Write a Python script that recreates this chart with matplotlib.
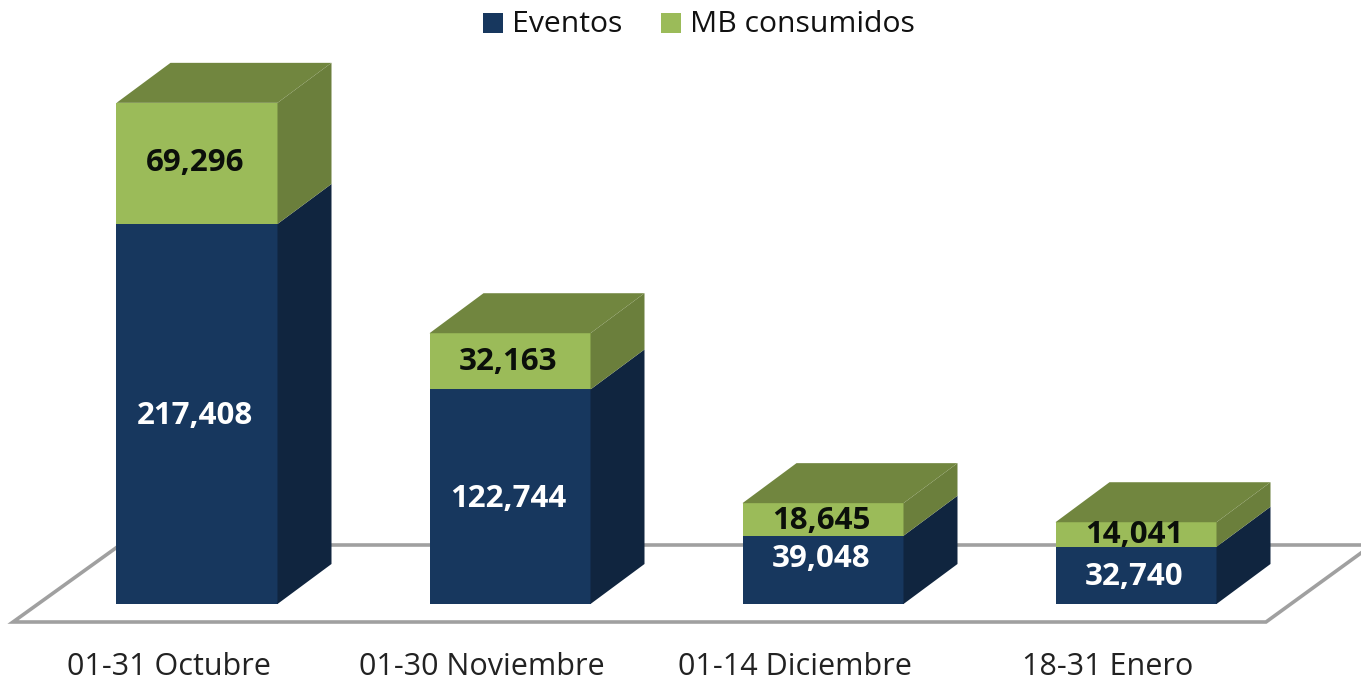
import matplotlib
matplotlib.use("Agg")
import numpy as np
import matplotlib.pyplot as plt
from matplotlib.patches import Polygon

periods = ["01-31 Octubre", "01-30 Noviembre", "01-14 Diciembre", "18-31 Enero"]
eventos = [217408, 122744, 39048, 32740]
mb_consumidos = [69296, 32163, 18645, 14041]
series_names = ["Eventos", "MB consumidos"]

plt.rcParams["font.family"] = ["Open Sans", "DejaVu Sans"]

W, H = 1361, 678
px_x = 313.0      # pixels per category
px_y = 0.001748   # pixels per unit
x0_px, y0_px = 197.0, 604.0

fig = plt.figure(figsize=(W / 100, H / 100), dpi=100)
ax = fig.add_axes([0, 0, 1, 1])
ax.set_xlim(-x0_px / px_x, (W - x0_px) / px_x)
ax.set_ylim(-(H - y0_px) / px_y, y0_px / px_y)
ax.axis("off")


def xu(px):
    return px / px_x


def yu(px):
    return px / px_y


half = xu(80.5)
dx, dy = xu(54), yu(40)

navy, navy_side = "#17375E", "#10253F"
green, green_side, green_top = "#9BBB59", "#6B7F3C", "#71863F"


def box(x, bottom, top, front, side):
    ax.add_patch(Polygon([(x - half, bottom), (x + half, bottom), (x + half, top), (x - half, top)],
                         fc=front, ec="none", zorder=3))
    ax.add_patch(Polygon([(x + half, bottom), (x + half + dx, bottom + dy),
                          (x + half + dx, top + dy), (x + half, top)],
                         fc=side, ec="none", zorder=3))


# floor of the 3d chart
floor = [(xu(13 - x0_px), yu(y0_px - 622)), (xu(1266 - x0_px), yu(y0_px - 622)),
         (xu(1372 - x0_px), yu(y0_px - 545)), (xu(120 - x0_px), yu(y0_px - 545))]
ax.add_patch(Polygon(floor, closed=True, fc="white", ec="#A0A0A0", lw=2.6, zorder=1, joinstyle="miter"))

# 39,048 sits higher than the middle of its segment
label_shift = [0, 0, 13, 0]
green_shift = [0, -1, -2, -1]

for i in range(len(periods)):
    e, m = eventos[i], mb_consumidos[i]
    box(i, 0, e, navy, navy_side)
    box(i, e, e + m, green, green_side)
    ax.add_patch(Polygon([(i - half, e + m), (i + half, e + m),
                          (i + half + dx, e + m + dy), (i - half + dx, e + m + dy)],
                         fc=green_top, ec="none", zorder=3))
    ax.text(i - xu(2), e / 2 + yu(label_shift[i] - 2), f"{e:,}", color="white", fontsize=22.5,
            fontweight="bold", ha="center", va="center", zorder=4)
    ax.text(i - xu(2), e + m / 2 + yu(green_shift[i]), f"{m:,}", color="#0B0F0A", fontsize=22.5,
            fontweight="bold", ha="center", va="center", zorder=4)
    ax.text(i - xu(28), yu(y0_px - 667), periods[i], color="#222222", fontsize=22,
            ha="center", va="center", zorder=4)

# legend
ax.add_patch(Polygon([(xu(483 - x0_px), yu(y0_px - 13)), (xu(503 - x0_px), yu(y0_px - 13)),
                      (xu(503 - x0_px), yu(y0_px - 33)), (xu(483 - x0_px), yu(y0_px - 33))],
                     fc=navy, ec="none"))
ax.add_patch(Polygon([(xu(661 - x0_px), yu(y0_px - 13)), (xu(681 - x0_px), yu(y0_px - 13)),
                      (xu(681 - x0_px), yu(y0_px - 33)), (xu(661 - x0_px), yu(y0_px - 33))],
                     fc=green, ec="none"))
ax.text(xu(512 - x0_px), yu(y0_px - 25), series_names[0], color="#111111", fontsize=21.7, ha="left", va="center")
ax.text(xu(690 - x0_px), yu(y0_px - 25), series_names[1], color="#111111", fontsize=21.7, ha="left", va="center")

fig.savefig("out.png", dpi=100)
